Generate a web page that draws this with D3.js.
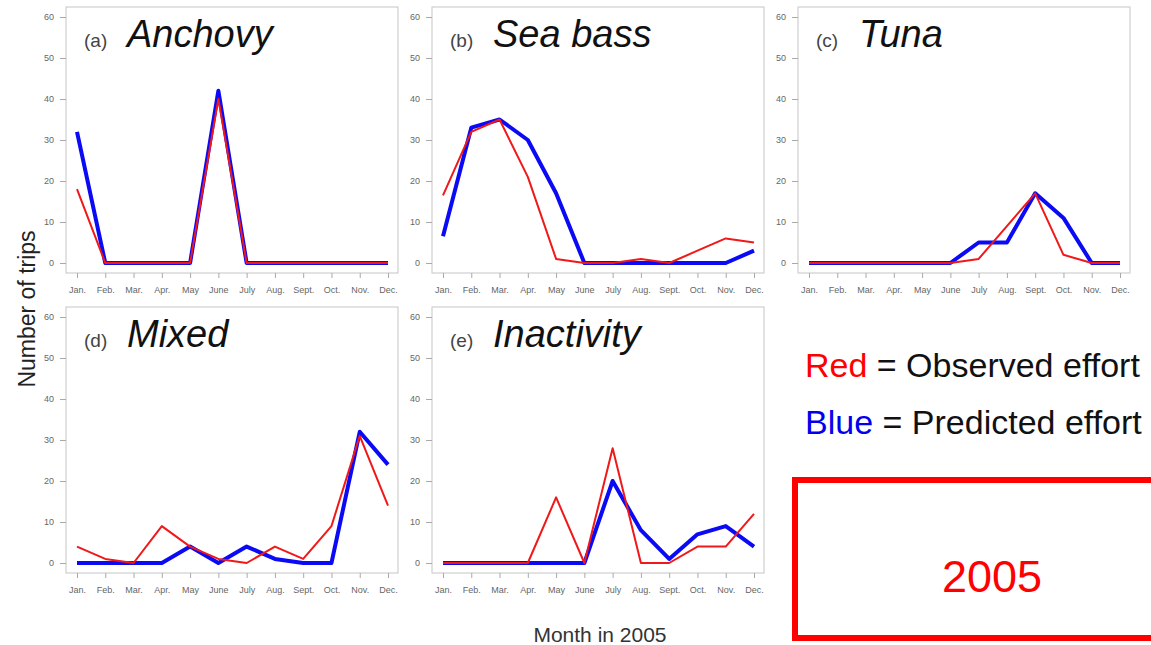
<!DOCTYPE html>
<html>
<head>
<meta charset="utf-8">
<script src="https://cdn.jsdelivr.net/npm/d3@7"></script>
<style>
    body { margin: 0; background: #fff; }
    svg { display: block; font-family: 'Liberation Sans', Arial, sans-serif; }
    .axis text { fill: #666; font-size: 9px; }
    .axis line { stroke: #aaa; }
    .axis path { display: none; }
</style>
</head>
<body>
<script>
const months = ['Jan.', 'Feb.', 'Mar.', 'Apr.', 'May', 'June', 'July', 'Aug.', 'Sept.', 'Oct.', 'Nov.', 'Dec.'];
const yTicks = [0, 10, 20, 30, 40, 50, 60];
const panelTags = ['(a)', '(b)', '(c)', '(d)', '(e)'];
const panelNames = ['Anchovy', 'Sea bass', 'Tuna', 'Mixed', 'Inactivity'];

// observed (red) and predicted (blue) trips per month
const anchovyObserved = [18, 0, 0, 0, 0, 40, 0, 0, 0, 0, 0, 0];
const anchovyPredicted = [32, 0, 0, 0, 0, 42, 0, 0, 0, 0, 0, 0];
const seaBassObserved = [16.5, 32, 35, 21, 1, 0, 0, 1, 0, 3, 6, 5];
const seaBassPredicted = [6.5, 33, 35, 30, 17, 0, 0, 0, 0, 0, 0, 3];
const tunaObserved = [0, 0, 0, 0, 0, 0, 1, 9, 17, 2, 0, 0];
const tunaPredicted = [0, 0, 0, 0, 0, 0, 5, 5, 17, 11, 0, 0];
const mixedObserved = [4, 1, 0, 9, 4, 1, 0, 4, 1, 9, 31, 14];
const mixedPredicted = [0, 0, 0, 0, 4, 0, 4, 1, 0, 0, 32, 24];
const inactivityObserved = [0, 0, 0, 0, 16, 0, 28, 0, 0, 4, 4, 12];
const inactivityPredicted = [0, 0, 0, 0, 0, 0, 20, 8, 1, 7, 9, 4];

const observed = [anchovyObserved, seaBassObserved, tunaObserved, mixedObserved, inactivityObserved];
const predicted = [anchovyPredicted, seaBassPredicted, tunaPredicted, mixedPredicted, inactivityPredicted];

const width = 1151;
const height = 645;
const panelW = 332;
const panelH = 266;
const colX = [66, 432, 798];
const rowY = [7, 307];

const svg = d3.select('body')
    .append('svg')
    .attr('width', width)
    .attr('height', height);

svg.append('rect')
    .attr('width', width)
    .attr('height', height)
    .attr('fill', '#fff');

panelNames.forEach((name, i) => {
    const left = colX[i % 3];
    const top = rowY[Math.floor(i / 3)];

    const x = d3.scalePoint()
        .domain(months)
        .range([left + 11, left + panelW - 10]);
    const y = d3.scaleLinear()
        .domain([0, 60])
        .range([top + panelH - 10, top + 10]);

    const g = svg.append('g');

    g.append('rect')
        .attr('x', left)
        .attr('y', top)
        .attr('width', panelW)
        .attr('height', panelH)
        .attr('fill', '#fff')
        .attr('stroke', '#cfcfcf')
        .attr('stroke-width', 1.2);

    g.append('g')
        .attr('class', 'axis')
        .attr('transform', `translate(0, ${top + panelH})`)
        .call(d3.axisBottom(x).tickSize(5).tickPadding(9));
    g.append('g')
        .attr('class', 'axis')
        .attr('transform', `translate(${left}, 0)`)
        .call(d3.axisLeft(y).tickValues(yTicks).tickSize(6).tickPadding(6));

    const line = d3.line()
        .x((d, j) => x(months[j]))
        .y(d => y(d));

    g.append('path')
        .datum(predicted[i])
        .attr('d', line)
        .attr('fill', 'none')
        .attr('stroke', '#0a0af5')
        .attr('stroke-width', 4)
        .attr('stroke-linejoin', 'round');
    g.append('path')
        .datum(observed[i])
        .attr('d', line)
        .attr('fill', 'none')
        .attr('stroke', '#f01818')
        .attr('stroke-width', 2)
        .attr('stroke-linejoin', 'round');

    g.append('text')
        .attr('x', left + 18)
        .attr('y', top + 40)
        .attr('fill', '#444')
        .attr('font-size', 19)
        .text(panelTags[i]);
    g.append('text')
        .attr('x', left + 61)
        .attr('y', top + 40)
        .attr('fill', '#111')
        .attr('font-size', 38)
        .attr('font-style', 'italic')
        .text(name);
});

svg.append('text')
    .attr('transform', 'translate(35, 309) rotate(-90)')
    .attr('text-anchor', 'middle')
    .attr('fill', '#222')
    .attr('font-size', 23)
    .text('Number of trips');

svg.append('text')
    .attr('x', 600)
    .attr('y', 642)
    .attr('text-anchor', 'middle')
    .attr('fill', '#333')
    .attr('font-size', 21)
    .text('Month in 2005');

// legend
const legend = svg.append('g').attr('font-size', 34);
const l1 = legend.append('text').attr('x', 805).attr('y', 377);
l1.append('tspan').attr('fill', '#ff0000').text('Red');
l1.append('tspan').attr('fill', '#111').text(' = Observed effort');
const l2 = legend.append('text').attr('x', 805).attr('y', 434);
l2.append('tspan').attr('fill', '#0000ee').text('Blue');
l2.append('tspan').attr('fill', '#111').text(' = Predicted effort');

svg.append('rect')
    .attr('x', 795)
    .attr('y', 480)
    .attr('width', 400)
    .attr('height', 158)
    .attr('fill', 'none')
    .attr('stroke', '#f00')
    .attr('stroke-width', 6);

svg.append('text')
    .attr('x', 992)
    .attr('y', 592)
    .attr('text-anchor', 'middle')
    .attr('fill', '#f00')
    .attr('font-size', 45)
    .text('2005');
</script>
</body>
</html>
